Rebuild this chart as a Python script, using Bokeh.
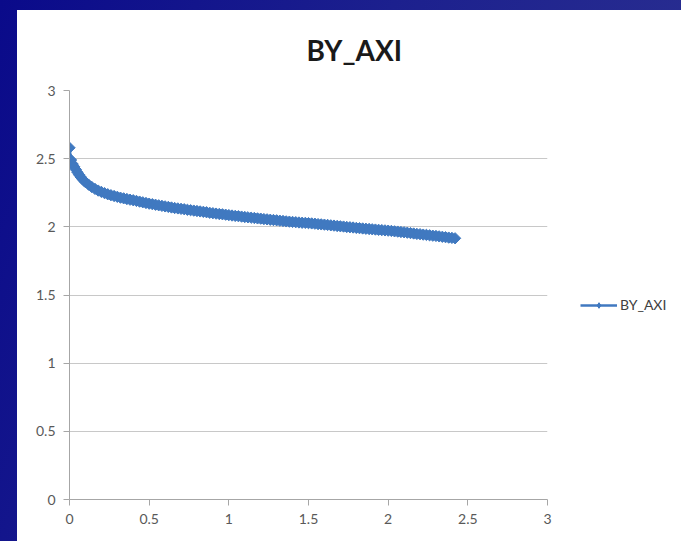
import math

from bokeh.embed import file_html
from bokeh.layouts import column, row
from bokeh.models import (ColumnDataSource, FixedTicker, Legend, LegendItem,
                          Range1d, Title)
from bokeh.plotting import figure
from bokeh.resources import INLINE

# Series
series_name = "BY_AXI"
x_vals = [0.00, 0.01, 0.02, 0.03, 0.04, 0.05, 0.06, 0.07, 0.08, 0.09,
          0.10, 0.12, 0.14, 0.16, 0.18, 0.20, 0.22, 0.24, 0.26, 0.28,
          0.30, 0.32, 0.34, 0.36, 0.38, 0.40, 0.42, 0.44, 0.46, 0.48,
          0.50, 0.52, 0.54, 0.56, 0.58, 0.60, 0.62, 0.64, 0.66, 0.68,
          0.70, 0.72, 0.74, 0.76, 0.78, 0.80, 0.82, 0.84, 0.86, 0.88,
          0.90, 0.92, 0.94, 0.96, 0.98, 1.00, 1.02, 1.04, 1.06, 1.08,
          1.10, 1.12, 1.14, 1.16, 1.18, 1.20, 1.22, 1.24, 1.26, 1.28,
          1.30, 1.32, 1.34, 1.36, 1.38, 1.40, 1.42, 1.44, 1.46, 1.48,
          1.50, 1.52, 1.54, 1.56, 1.58, 1.60, 1.62, 1.64, 1.66, 1.68,
          1.70, 1.72, 1.74, 1.76, 1.78, 1.80, 1.82, 1.84, 1.86, 1.88,
          1.90, 1.92, 1.94, 1.96, 1.98, 2.00, 2.02, 2.04, 2.06, 2.08,
          2.10, 2.12, 2.14, 2.16, 2.18, 2.20, 2.22, 2.24, 2.26, 2.28,
          2.30, 2.32, 2.34, 2.36, 2.38, 2.40, 2.42]
y_vals = [2.580, 2.490, 2.460, 2.440, 2.420, 2.400, 2.382, 2.366, 2.352, 2.339,
          2.328, 2.309, 2.292, 2.278, 2.266, 2.256, 2.247, 2.239, 2.232, 2.226,
          2.220, 2.214, 2.209, 2.204, 2.199, 2.195, 2.190, 2.185, 2.180, 2.175,
          2.170, 2.166, 2.162, 2.158, 2.154, 2.150, 2.146, 2.142, 2.138, 2.135,
          2.132, 2.129, 2.125, 2.122, 2.119, 2.116, 2.113, 2.110, 2.107, 2.103,
          2.100, 2.097, 2.094, 2.092, 2.089, 2.086, 2.083, 2.080, 2.078, 2.075,
          2.072, 2.070, 2.067, 2.065, 2.062, 2.060, 2.057, 2.055, 2.052, 2.050,
          2.048, 2.045, 2.043, 2.040, 2.038, 2.036, 2.034, 2.032, 2.030, 2.029,
          2.027, 2.025, 2.023, 2.020, 2.018, 2.016, 2.014, 2.011, 2.009, 2.006,
          2.004, 2.002, 1.999, 1.997, 1.995, 1.992, 1.990, 1.988, 1.986, 1.984,
          1.982, 1.980, 1.978, 1.976, 1.974, 1.972, 1.970, 1.967, 1.965, 1.962,
          1.960, 1.957, 1.954, 1.951, 1.948, 1.946, 1.943, 1.941, 1.938, 1.935,
          1.933, 1.930, 1.927, 1.924, 1.921, 1.919, 1.916]

# Axes
x_ticks = [0, 0.5, 1, 1.5, 2, 2.5, 3]
x_tick_labels = ["0", "0.5", "1", "1.5", "2", "2.5", "3"]
y_ticks = [0, 0.5, 1, 1.5, 2, 2.5, 3]
y_tick_labels = ["0", "0.5", "1", "1.5", "2", "2.5", "3"]

SERIES_COLOR = "#4079C0"
FONT = "Lato"

source = ColumnDataSource(data=dict(x=x_vals, y=y_vals))

# main chart
p = figure(
    width=540, height=531,
    output_backend="svg", toolbar_location=None,
    x_range=Range1d(0, 3), y_range=Range1d(0, 3),
    min_border_left=52, min_border_right=10,
    min_border_top=79, min_border_bottom=42,
    background_fill_color="white", border_fill_color="white",
    outline_line_color=None,
)

p.title = Title(text=series_name, align="left", offset=237, standoff=44,
                vertical_align="top",
                text_font=FONT, text_font_size="28px", text_font_style="bold",
                text_color="#1a1a1a")

p.line("x", "y", source=source, line_color=SERIES_COLOR, line_width=2.5)
# diamond markers: squares turned by 45 degrees
p.scatter("x", "y", source=source, marker="square", angle=math.pi / 4, size=8,
          fill_color=SERIES_COLOR, line_color=SERIES_COLOR)

for ax, ticks, labels in ((p.xaxis[0], x_ticks, x_tick_labels),
                          (p.yaxis[0], y_ticks, y_tick_labels)):
    ax.ticker = FixedTicker(ticks=ticks)
    ax.major_label_overrides = {t: s for t, s in zip(ticks, labels)}
    ax.axis_line_color = "#a6a6a6"
    ax.major_tick_line_color = "#a6a6a6"
    ax.major_tick_out = 6
    ax.major_tick_in = 0
    ax.minor_tick_line_color = None
    ax.major_label_text_font = FONT
    ax.major_label_text_font_size = "14px"
    ax.major_label_text_color = "#595959"
    ax.major_label_standoff = 8

p.xgrid.grid_line_color = None
p.ygrid.ticker = FixedTicker(ticks=y_ticks)
p.ygrid.grid_line_color = "#c8c8c8"
p.ygrid.grid_line_width = 1

# legend strip to the right of the chart; its ranges keep the series out of view,
# so only the legend key is drawn
lg = figure(
    width=124, height=531,
    output_backend="svg", toolbar_location=None,
    x_range=Range1d(10, 11), y_range=Range1d(10, 11),
    x_axis_location=None, y_axis_location=None,
    min_border_left=0, min_border_right=0,
    min_border_top=79, min_border_bottom=42,
    background_fill_color="white", border_fill_color="white",
    outline_line_color=None,
)
lg.xgrid.visible = False
lg.ygrid.visible = False
key_line = lg.line("x", "y", source=source, line_color=SERIES_COLOR, line_width=2.5)
key_pts = lg.scatter("x", "y", source=source, marker="diamond", size=11,
                     fill_color=SERIES_COLOR, line_color=SERIES_COLOR)

legend = Legend(
    items=[LegendItem(label=series_name, renderers=[key_line, key_pts])],
    location=(23, 186),
    border_line_color=None, background_fill_alpha=0,
    glyph_width=37, glyph_height=14, label_standoff=3,
    padding=0, margin=0, spacing=0,
    label_text_font=FONT, label_text_font_size="14px",
    label_text_color="#404040",
)
lg.add_layout(legend)

# white chart sheet on a dark blue slide background
sheet = row(p, lg, margin=(10, 0, 0, 17), styles={"background-color": "white"})
page = column(sheet, styles={
    "background": "linear-gradient(110deg, #0a0a8a 0%, #1c208e 45%, #2e3391 100%)"
})

open("out.html", "w").write(file_html(page, INLINE))
